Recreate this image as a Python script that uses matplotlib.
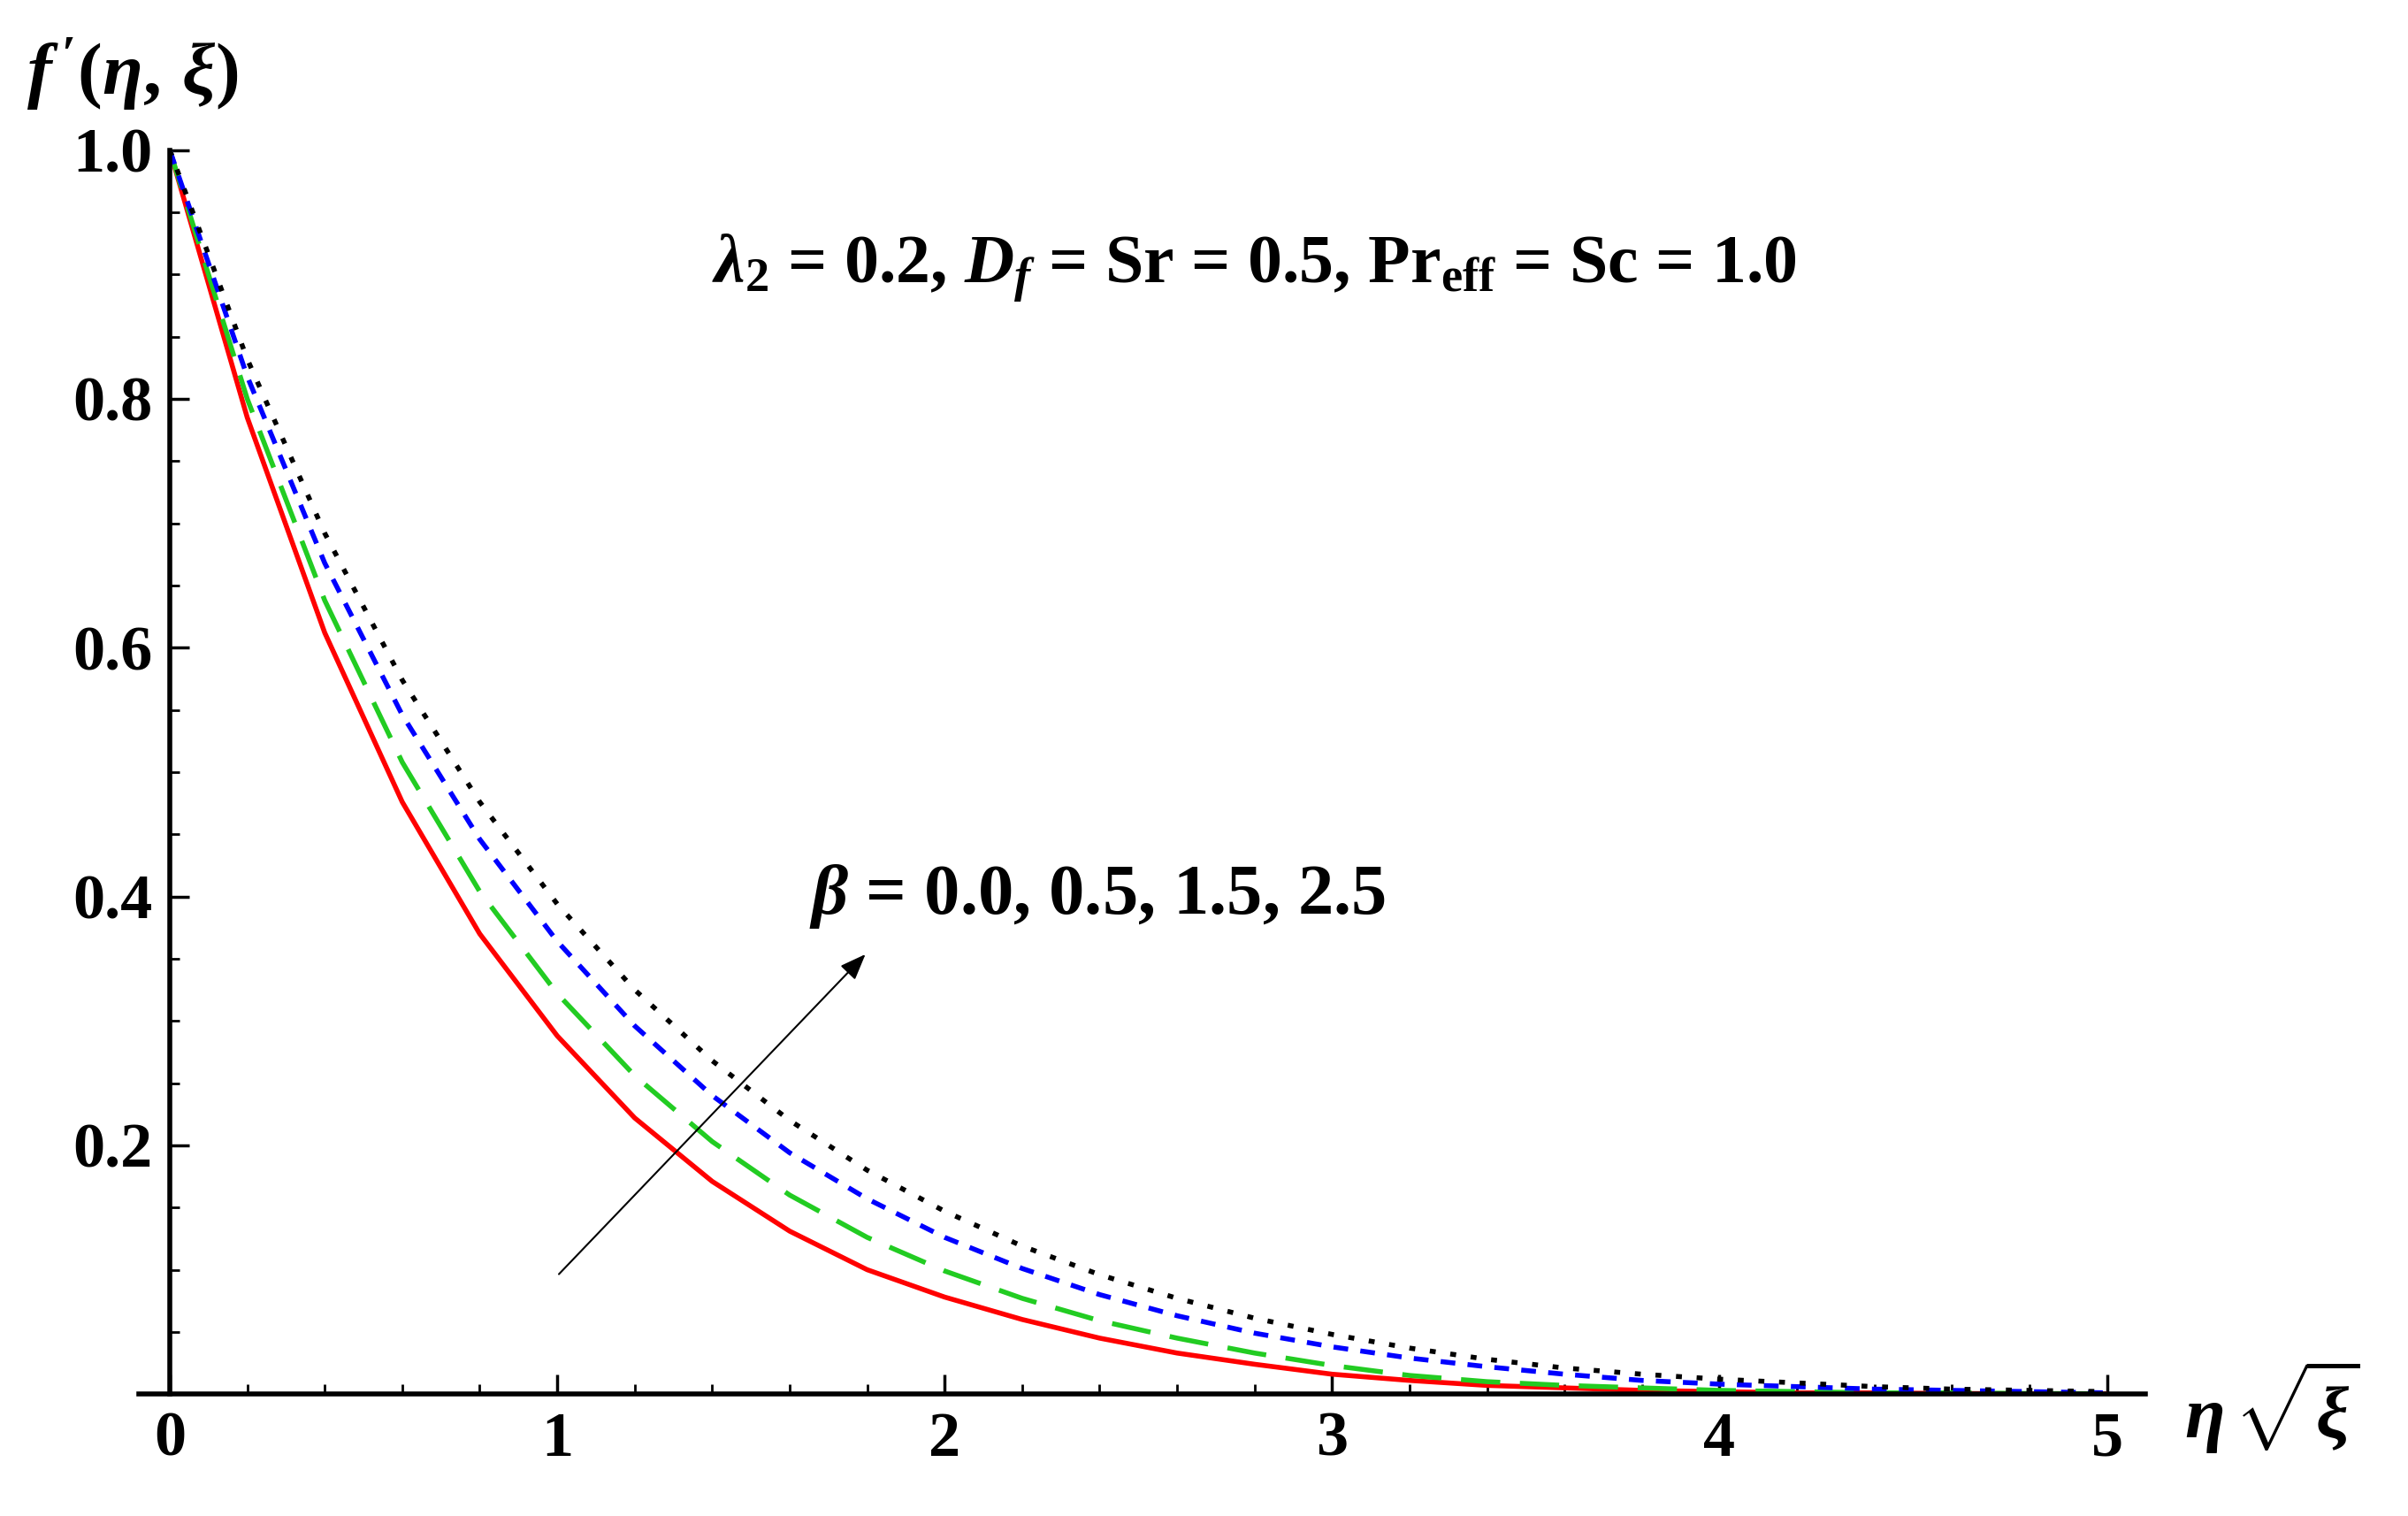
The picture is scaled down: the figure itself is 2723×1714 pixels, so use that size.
import matplotlib
matplotlib.use("Agg")
import matplotlib.pyplot as plt
from matplotlib.ticker import MultipleLocator

eta = [0.0,0.2,0.4,0.6,0.8,1.0,1.2,1.4,1.6,1.8,2.0,2.2,2.4,2.6,2.8,3.0,3.2,3.4,3.6,3.8,4.0,4.2,4.4,4.6,4.8,5.0]
red   = [1,.785,.612,.476,.370,.288,.222,.171,.131,.100,.078,.060,.045,.033,.024,.016,.011,.007,.005,.003,.002,.001,.001,.0005,.0003,.0002]
green = [1,.800,.638,.508,.404,.322,.256,.203,.160,.126,.099,.077,.059,.045,.033,.023,.015,.010,.007,.005,.003,.002,.001,.001,.0005,.0003]
blue  = [1,.818,.668,.546,.446,.364,.296,.240,.194,.157,.126,.101,.080,.063,.049,.038,.029,.022,.016,.011,.008,.006,.004,.003,.002,.001]
black = [1,.832,.692,.574,.476,.394,.325,.268,.220,.180,.147,.119,.096,.077,.061,.048,.037,.028,.021,.016,.012,.009,.006,.004,.003,.002]

plt.rcParams['font.family'] = ['Liberation Serif', 'DejaVu Serif']
plt.rcParams['mathtext.fontset'] = 'custom'
plt.rcParams['mathtext.it'] = 'Liberation Serif:italic:bold'
plt.rcParams['mathtext.rm'] = 'Liberation Serif:bold'
plt.rcParams['mathtext.bf'] = 'Liberation Serif:bold'
fig = plt.figure(figsize=(27.23, 17.14), dpi=100)
ax = fig.add_axes([0.0705, 0.0804, 0.8045, 0.8206])
ax.plot(eta, red, color='red', lw=4)
ax.plot(eta, green, color='#22cc22', lw=4, dashes=(8, 4))
ax.plot(eta, blue, color='blue', lw=4, dashes=(3, 2.5))
ax.plot(eta, black, color='black', lw=4, dashes=(1.2, 3))
ax.set_xlim(0, 5)
ax.set_ylim(0, 1.0)
for s in ['top', 'right']:
    ax.spines[s].set_visible(False)
ax.spines['left'].set_linewidth(4)
ax.spines['bottom'].set_linewidth(4)
ax.spines['bottom'].set_bounds(-0.08, 5.1)
ax.spines['left'].set_bounds(0, 1.0)
ax.set_clip_on(False)
ax.xaxis.set_major_locator(MultipleLocator(1))
ax.xaxis.set_minor_locator(MultipleLocator(0.2))
ax.yaxis.set_minor_locator(MultipleLocator(0.05))
ax.set_yticks([0.2, 0.4, 0.6, 0.8, 1.0])
ax.set_yticklabels(['0.2', '0.4', '0.6', '0.8', '1.0'])
ax.tick_params(which='major', direction='in', length=16, width=2.5, labelsize=52, pad=14)
ax.tick_params(which='minor', direction='in', length=8, width=2)
for t in ax.get_xticklabels() + ax.get_yticklabels():
    t.set_fontweight('bold')
ax.text(-0.37, 1.03, r"$f\,'(\eta,\,\xi)$", fontsize=60, ha='left', va='bottom')
ax.text(5.2, -0.01, r"$\eta\,\sqrt{\xi}$", fontsize=60, ha='left', va='center')
ax.text(2.8, 0.905, r"$\lambda_2$ = 0.2, $D_f$ = Sr = 0.5, Pr$_{\mathrm{eff}}$ = Sc = 1.0",
        fontsize=56, fontweight='bold', ha='center', va='center')
ax.text(1.65, 0.4, r"$\beta$ = 0.0, 0.5, 1.5, 2.5", fontsize=58, fontweight='bold', ha='left', va='center')
ax.annotate('', xy=(1.8, 0.355), xytext=(1.0, 0.095),
            arrowprops=dict(arrowstyle='-|>,head_length=1.8,head_width=0.7', color='black', lw=1.5))
fig.savefig('out.png', dpi=100)
